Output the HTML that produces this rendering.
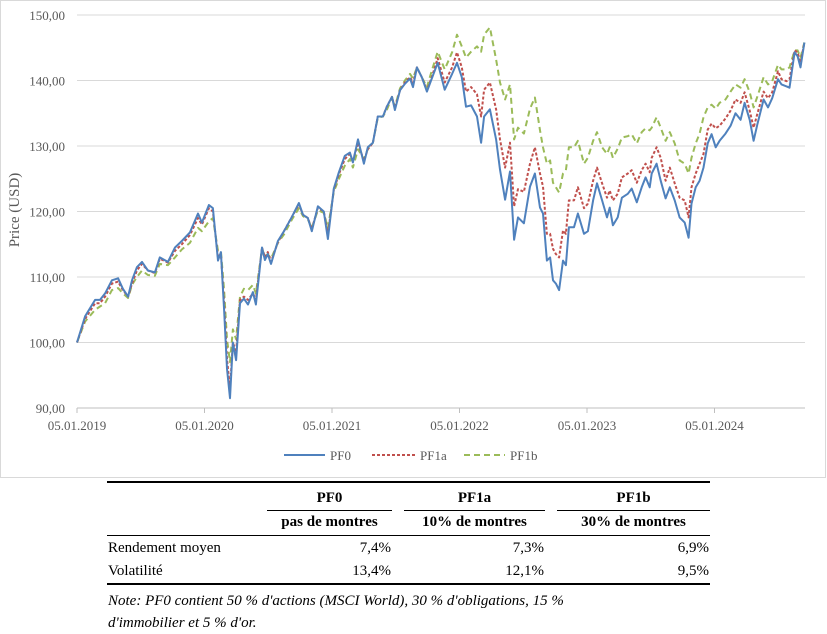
<!DOCTYPE html>
<html><head><meta charset="utf-8"><style>
body{margin:0;background:#fff;width:827px;height:626px;overflow:hidden;font-family:"Liberation Serif",serif;}
#wrap{position:relative;width:827px;height:626px;}
table{position:absolute;left:107px;top:481px;width:603px;border-collapse:collapse;font-size:15px;color:#000;table-layout:fixed;}
td{padding:0 1px;}
</style></head><body>
<div id="wrap">
<svg id="chart" width="827" height="480" style="position:absolute;left:0;top:0">
<rect x="0.5" y="0.5" width="825" height="477" fill="#fff" stroke="#d9d9d9"/>
<g id="grid"></g><g id="axes"></g><g id="series"></g>
<text transform="translate(19,210) rotate(-90)" text-anchor="middle" font-size="15" fill="#595959" font-family="Liberation Serif">Price (USD)</text>
<g font-size="13" fill="#595959" font-family="Liberation Serif">
<line x1="284" y1="455" x2="325" y2="455" stroke="#4F81BD" stroke-width="2"/><text x="330" y="460">PF0</text>
<line x1="372" y1="455" x2="415" y2="455" stroke="#C0504D" stroke-width="2" stroke-dasharray="3,2"/><text x="420" y="460">PF1a</text>
<line x1="464" y1="455" x2="505" y2="455" stroke="#9BBB59" stroke-width="2" stroke-dasharray="6,4"/><text x="510" y="460">PF1b</text>
</g>
</svg>
<table>
<colgroup><col style="width:160px"><col style="width:125px"><col style="width:12px"><col style="width:141px"><col style="width:12px"><col style="width:153px"></colgroup>
<tr style="border-top:2px solid #000"><td style="height:27px"></td><td style="text-align:center;font-weight:bold;border-bottom:1px solid #000;padding-top:4px">PF0</td><td></td><td style="text-align:center;font-weight:bold;border-bottom:1px solid #000;padding-top:4px">PF1a</td><td></td><td style="text-align:center;font-weight:bold;border-bottom:1px solid #000;padding-top:4px">PF1b</td></tr>
<tr style="border-bottom:1px solid #000"><td style="height:25px"></td><td style="text-align:center;font-weight:bold;white-space:nowrap">pas de montres</td><td></td><td style="text-align:center;font-weight:bold;white-space:nowrap">10% de montres</td><td></td><td style="text-align:center;font-weight:bold;white-space:nowrap">30% de montres</td></tr>
<tr><td style="height:24px;white-space:nowrap">Rendement moyen</td><td style="text-align:right">7,4%</td><td></td><td style="text-align:right">7,3%</td><td></td><td style="text-align:right">6,9%</td></tr>
<tr style="border-bottom:2px solid #000"><td style="height:23px">Volatilité</td><td style="text-align:right">13,4%</td><td></td><td style="text-align:right">12,1%</td><td></td><td style="text-align:right">9,5%</td></tr>
<tr><td colspan="6" style="font-style:italic;line-height:22px;padding-top:5px">Note: PF0 contient 50 % d'actions (MSCI World), 30 % d'obligations, 15 %<br>d'immobilier et 5 % d'or.</td></tr>
</table>
</div>
<script>
const weeks=[0,3.3,7.4,9.4,11.5,14.3,16.8,18.8,20.9,22.5,24.5,26.6,29,31.9,33.9,37.2,40.1,42.9,46.2,49.5,51.1,54,55.6,57.7,58.9,60.2,61.4,62.6,63.8,65.1,66.7,68.3,70,72,73.2,75.7,76.9,78.1,79.4,82.2,84.7,88,90.8,92.5,94.5,96.1,98.6,101,102.7,105.1,107.2,109.6,111.7,112.9,115,117.4,119,121.1,123.1,125.2,126.8,128.9,130.1,132.2,134.2,136.3,137.5,139.1,141.1,143.2,145.2,147.6,150.5,153.5,155.5,157.5,159.2,161.3,163.7,165.4,166.6,169,171.5,173.1,175.2,177.2,178.9,180.5,182.9,185.4,187.4,189.5,190.7,192.3,193.6,194.8,196,197.3,198.9,200.1,201.3,203.4,205,207.5,209.1,211.2,212.8,214.9,216.9,218,219.3,221.3,223,225.4,227,229.1,231.1,232.7,234.4,235.2,237.2,238.9,240.9,242.6,244.6,246.6,248.7,250.3,251.5,253.2,254.8,256.4,258.1,259.7,261.4,263,265.4,267.5,269.5,271.6,273.2,275.3,276.9,278.5,281,282.8,284.5,286.9,288.3,290.4,291.6,293.7,294.9,296.1,297.7];
const pf0=[100,104,106.5,106.5,107.5,109.5,109.8,108.2,107,109.5,111.5,112.3,111,110.7,113,112.3,114.5,115.5,116.8,119.7,118.3,121,120.5,112.5,113.8,105,96,91.5,100,97.3,106,106.7,105.8,107.7,105.8,114.5,112.6,113.5,112,115.5,117,119.2,121.3,119.5,119,117,120.8,120,115.8,123.5,126,128.5,129,127.5,131,127.3,129.8,130.5,134.5,134.5,136,137.5,135.5,138.5,139.5,140.3,139,142,140.5,138.3,140.3,142.7,138.6,141,142.7,140.5,136,136.2,134.5,130.5,134.5,135.6,131,126.4,121.8,126.1,115.7,119.1,118.2,123.8,125.8,120.6,119.7,112.5,113,109.5,109,108,112.5,111.8,117.6,117.6,119.7,116.6,117,121.7,124.3,121.7,119.1,120.6,117.9,119.1,122.1,122.7,123.5,121.4,123.7,125.2,123.7,125.8,127.3,124.7,122,123.7,121.7,119.1,118.3,116,121.2,123.7,124.7,126.7,130.4,131.8,129.8,130.8,131.9,133.1,135,134,136.6,134,130.8,133.4,137.1,135.9,137.3,140.2,139.4,139.1,138.9,144.3,143.7,142,145.8];
const pf1a=[100,103.6,106,106,107,109,109.3,108,107,109,111,112,111,110.6,112.8,112.2,114,115,116.4,119,118,120.5,120,113,113.5,106,97.5,93,100,98.5,106.5,107,106.5,107.5,106.5,114.5,113,113.8,112.3,115.3,117,119.2,121.1,119.5,119,117.3,120.6,120,116.5,123.3,125.7,128,128.8,127.7,130.5,127.7,129.5,130.5,134.5,134.5,136,137.5,135.8,138.5,139.7,140.5,139.6,142,140.5,138.5,140.5,143.4,139.7,142,144.3,142,138.3,139,137.9,134.5,138.6,139.7,135.6,131,126.7,130.5,120.8,123.4,123,127.3,129.8,125.8,123.8,116.6,116.6,114.3,113.5,113,117.1,116.6,121.7,121.7,123.7,120.5,121.2,124.7,126.7,124.3,122.1,123.2,121.7,122.7,125.2,125.8,126.3,124.4,126.3,127.3,126,128.2,129.8,128.2,124.7,126.7,124.3,122.1,121.7,119.1,123.7,125.8,127.3,128.8,132.5,133.4,132.7,133.1,134.2,135.4,137.1,136.6,138.2,135.4,132.8,135,138.3,137.3,138.2,141.4,140.2,139.9,140.2,144.6,144.3,142.7,145.8];
const pf1b=[100,103.2,105,105.5,106,108,108.3,107.5,106.8,108.8,110,111,110.3,110.2,112,111.8,113,114.2,115.2,117.5,117,118.5,119,114,114,108,100.5,97,102,100.5,107,108.2,108,108.8,107.5,114.3,113.2,113.5,112.8,115.2,116.5,118.8,120.5,119.3,118.8,117.5,120.2,119.8,117.5,123,125,127,128,126.7,129.5,128,129.5,130.5,134.3,134.5,135.5,137.5,136,138.8,140,141,140.3,142,140.5,139,141.5,144.4,141.7,144.3,147,145.2,143.5,144.4,145.2,144.4,147,148.1,143.2,139.7,137.1,139.4,131,132.8,131.9,135.7,137.4,132.4,129.8,127.3,127.8,124.4,123.7,122.9,125.8,126.3,129.8,129.8,130.8,127.3,128.2,130.8,132.1,129.8,128.8,129.8,128.2,129.6,131.3,131.5,131.8,130.4,132.1,132.7,132.4,132.8,134.4,132.8,130.8,132.1,130.4,127.8,127.3,125.8,128.2,130.4,131.9,134.4,135.9,136.3,135.7,136.6,137.1,138.3,139.4,138.9,140.2,138.2,135.9,137.6,140.5,139.4,139.9,142.4,141.7,141.7,142,144.6,144.6,143.5,145.8];
const yTicks=[90,100,110,120,130,140,150];
const yTickLabels=["90,00","100,00","110,00","120,00","130,00","140,00","150,00"];
const xTicks=[0,52.18,104.36,156.54,208.72,260.9];
const xTickLabels=["05.01.2019","05.01.2020","05.01.2021","05.01.2022","05.01.2023","05.01.2024"];

const NS="http://www.w3.org/2000/svg";
const X0=77,PXW=127.5/52.18,Y0=408,PXV=393/60;
function xs(w){return X0+w*PXW;}
function ys(v){return Y0-(v-90)*PXV;}
const grid=document.getElementById('grid'),axes=document.getElementById('axes'),ser=document.getElementById('series');
yTicks.forEach((v,i)=>{
 const l=document.createElementNS(NS,'line');
 
 
 l.setAttribute('x1',X0);l.setAttribute('x2',805);l.setAttribute('y1',ys(v));l.setAttribute('y2',ys(v));
 l.setAttribute('stroke',i===0?'#bfbfbf':'#d9d9d9');l.setAttribute('stroke-width','1');
 grid.appendChild(l);
 const t=document.createElementNS(NS,'text');
 
 
 t.setAttribute('x',65);t.setAttribute('y',ys(v)+5);t.setAttribute('text-anchor','end');
 t.setAttribute('font-size','13');t.setAttribute('fill','#595959');t.setAttribute('font-family','Liberation Serif');
 t.textContent=yTickLabels[i];axes.appendChild(t);
});
xTicks.forEach((w,i)=>{
 const l=document.createElementNS(NS,'line');
 
 
 l.setAttribute('x1',xs(w));l.setAttribute('x2',xs(w));l.setAttribute('y1',Y0);l.setAttribute('y2',Y0+5);
 l.setAttribute('stroke','#bfbfbf');axes.appendChild(l);
 const t=document.createElementNS(NS,'text');
 
 
 t.setAttribute('x',xs(w));t.setAttribute('y',430);t.setAttribute('text-anchor','middle');
 t.setAttribute('font-size','13');t.setAttribute('fill','#595959');t.setAttribute('font-family','Liberation Serif');
 t.textContent=xTickLabels[i];axes.appendChild(t);
});
function draw(vals,color,dash,name){
 const p=document.createElementNS(NS,'polyline');
 
 
 p.setAttribute('points',vals.map((v,i)=>xs(weeks[i]).toFixed(1)+','+ys(v).toFixed(1)).join(' '));
 p.setAttribute('fill','none');p.setAttribute('stroke',color);p.setAttribute('stroke-width','2');
 p.setAttribute('stroke-linejoin','round');
 if(dash)p.setAttribute('stroke-dasharray',dash);
 ser.appendChild(p);
}
draw(pf1b,'#9BBB59','6,4','series-pf1b');
draw(pf1a,'#C0504D','3,2','series-pf1a');
draw(pf0,'#4F81BD',null,'series-pf0');
</script>
</body></html>
